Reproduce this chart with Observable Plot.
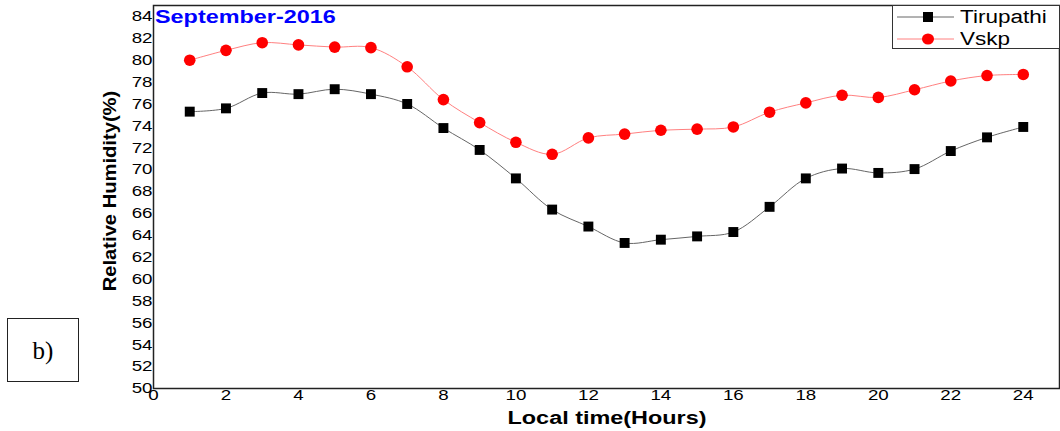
<!DOCTYPE html>
<html>
<head>
<meta charset="utf-8">
<script src="https://cdn.jsdelivr.net/npm/d3@7"></script>
<script src="https://cdn.jsdelivr.net/npm/@observablehq/plot@0.6"></script>
<style>
  html, body { margin: 0; padding: 0; background: #fff; }
  #wrap { position: relative; width: 1060px; height: 431px; font-family: "Liberation Sans", Arial, sans-serif; overflow: hidden; }
  .ov { position: absolute; white-space: nowrap; line-height: 1; }
</style>
</head>
<body>
<div id="wrap"></div>
<script>
const hours = [1,2,3,4,5,6,7,8,9,10,11,12,13,14,15,16,17,18,19,20,21,22,23,24];
const tirupathi = [75.3,75.6,77.0,76.9,77.35,76.9,76.0,73.8,71.8,69.2,66.35,64.8,63.3,63.6,63.9,64.3,66.6,69.2,70.1,69.7,70.05,71.7,72.95,73.9];
const vskp = [80.0,80.9,81.6,81.4,81.2,81.15,79.4,76.4,74.3,72.5,71.4,72.9,73.25,73.6,73.7,73.9,75.25,76.1,76.8,76.6,77.3,78.1,78.6,78.7];
const seriesNames = ["Tirupathi", "Vskp"];
const xTicks = [0,2,4,6,8,10,12,14,16,18,20,22,24];
const yTicks = [50,52,54,56,58,60,62,64,66,68,70,72,74,76,78,80,82,84];
const title = "September-2016";
const xLabel = "Local time(Hours)";
const yLabel = "Relative Humidity(%)";
const panelTag = "b)";

const lineColors = {Tirupathi: "#666666", Vskp: "#ff8080"};
const dotColors = {Tirupathi: "#000000", Vskp: "#ff0000"};

const data = [];
hours.forEach((h, i) => {
  data.push({hour: h, rh: tirupathi[i], site: seriesNames[0]});
  data.push({hour: h, rh: vskp[i], site: seriesNames[1]});
});
const tData = data.filter(d => d.site === "Tirupathi");
const vData = data.filter(d => d.site === "Vskp");

const chart = Plot.plot({
  width: 1060, height: 431,
  marginLeft: 153, marginRight: 1, marginTop: 5, marginBottom: 43,
  style: {fontFamily: "'Liberation Sans', Arial, sans-serif", fontSize: "14px", color: "#000", background: "transparent"},
  x: {domain: [0, 25]},
  y: {domain: [50, 85]},
  marks: [
    Plot.axisX({ticks: xTicks, tickSize: 0, tickPadding: 1, label: null, tickFormat: d => String(d), fontSize: 15}),
    Plot.axisY({ticks: yTicks, tickSize: 0, tickPadding: 1, label: null, tickFormat: d => String(d), fontSize: 15}),
    Plot.line(tData, {x: "hour", y: "rh", stroke: lineColors.Tirupathi, strokeWidth: 1, curve: "catmull-rom"}),
    Plot.line(vData, {x: "hour", y: "rh", stroke: lineColors.Vskp, strokeWidth: 1, curve: "catmull-rom"}),
    Plot.dot(tData, {x: "hour", y: "rh", symbol: "square", r: 5.6, fill: dotColors.Tirupathi, stroke: "none"}),
    Plot.dot(vData, {x: "hour", y: "rh", symbol: "circle", r: 5.8, fill: dotColors.Vskp, stroke: "none"}),
    Plot.frame({stroke: "#222", strokeWidth: 1.5})
  ]
});

// stretch tick labels horizontally like the reference
d3.select(chart).selectAll("g[aria-label='x-axis tick label'] text, g[aria-label='y-axis tick label'] text")
  .attr("transform", function() { return (this.getAttribute("transform") || "") + " scale(1.25,1)"; });

const wrap = document.getElementById("wrap");
chart.style.position = "absolute";
chart.style.left = "0px";
chart.style.top = "0px";
wrap.appendChild(chart);

function ov(html, css) {
  const d = document.createElement("div");
  d.className = "ov";
  d.innerHTML = html;
  Object.assign(d.style, css);
  wrap.appendChild(d);
  return d;
}

// title inside plot
ov(title, {left: "155px", top: "8px", fontSize: "18px", fontWeight: "bold", color: "#0000ff", transform: "scaleX(1.3)", transformOrigin: "left center"});

// axis labels
ov(xLabel, {left: "607px", top: "409px", fontSize: "18px", fontWeight: "bold", transform: "translateX(-50%) scaleX(1.3)", transformOrigin: "center center"});
ov(yLabel, {left: "110px", top: "191px", fontSize: "18px", fontWeight: "bold", transform: "translate(-50%,-50%) rotate(-90deg) scaleX(1.12)", transformOrigin: "center center"});

// legend box
const leg = ov("", {left: "892px", top: "5px", width: "166px", height: "42px", border: "1px solid #333", background: "#fff"});
function legRow(name, sym, top) {
  const row = document.createElement("div");
  Object.assign(row.style, {position: "absolute", left: "0px", top: top + "px", height: "20px", width: "166px"});
  const shape = sym === "square"
    ? `<rect x="27" y="5" width="10" height="10" fill="${dotColors[name]}"/>`
    : `<ellipse cx="32" cy="10" rx="6" ry="5.5" fill="${dotColors[name]}"/>`;
  row.innerHTML = `<svg width="62" height="20" style="position:absolute;left:3px;top:0"><line x1="1" x2="58" y1="10" y2="10" stroke="${lineColors[name]}" stroke-width="1"/>${shape}</svg>` +
    `<span style="position:absolute;left:67px;top:1px;font-size:18px;line-height:18px;display:inline-block;transform:scaleX(1.25);transform-origin:left center;">${name}</span>`;
  leg.appendChild(row);
}
legRow("Tirupathi", "square", 1);
legRow("Vskp", "circle", 23);

// panel tag box
ov(`<span>${panelTag}</span>`, {left: "7px", top: "318px", width: "70px", height: "62px", border: "1.5px solid #222", display: "flex", alignItems: "center", justifyContent: "center", fontFamily: "'Liberation Serif', 'Times New Roman', serif", fontSize: "25px"});
</script>
</body>
</html>
